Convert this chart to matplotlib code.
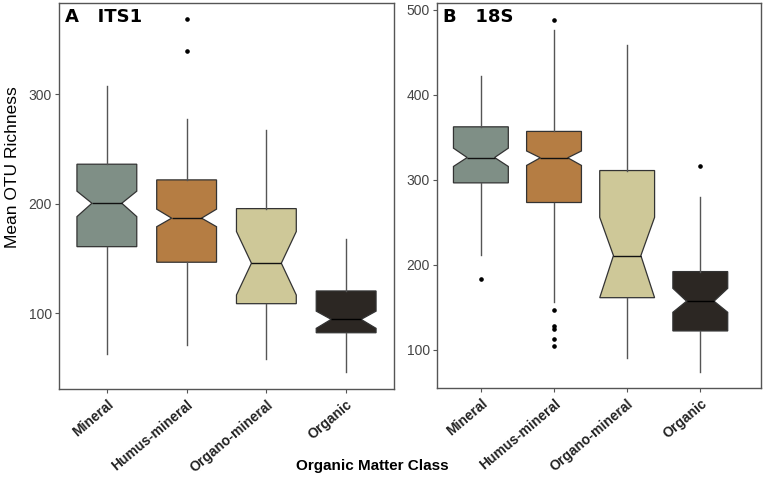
import numpy as np
import matplotlib.pyplot as plt

classes = ["Mineral", "Humus-mineral", "Organo-mineral", "Organic"]
colors = ["#7f8f86", "#b57d43", "#cec898", "#2c2723"]

# ITS1 box statistics
its_whislo = [62.6, 71.0, 58.0, 46.7]
its_q1 = [160.8, 146.6, 108.8, 82.3]
its_cilo = [188.2, 179.0, 116.7, 86.3]
its_med = [200.4, 186.8, 145.7, 94.5]
its_cihi = [211.4, 195.0, 174.6, 102.0]
its_q3 = [236.0, 221.7, 195.5, 120.4]
its_whishi = [307.6, 277.2, 267.4, 167.6]
its_fliers = [[], [339.5, 368.0], [], []]

# 18S box statistics
s18_whislo = [211.4, 157.0, 90.0, 74.5]
s18_q1 = [296.5, 273.4, 161.5, 122.4]
s18_cilo = [315.8, 317.0, 161.5, 144.3]
s18_med = [326.3, 326.0, 211.0, 157.4]
s18_cihi = [337.3, 334.0, 256.0, 172.5]
s18_q3 = [362.4, 357.0, 311.0, 192.2]
s18_whishi = [422.4, 476.0, 458.8, 279.4]
s18_fliers = [[184.0], [105.0, 113.0, 124.5, 128.0, 147.0, 488.0], [], [315.8]]

plt.rcParams["font.family"] = ["Liberation Sans", "DejaVu Sans"]


def make_stats(whislo, q1, cilo, med, cihi, q3, whishi, fliers):
    stats = []
    for i in range(len(med)):
        stats.append({
            "whislo": whislo[i], "q1": q1[i], "cilo": cilo[i], "med": med[i],
            "cihi": cihi[i], "q3": q3[i], "whishi": whishi[i],
            "fliers": fliers[i],
        })
    return stats


def draw_panel(ax, stats, title, ylim, yticks, xlim):
    bp = ax.bxp(stats, positions=range(1, 5), widths=0.75, shownotches=True,
                patch_artist=True, showcaps=False,
                boxprops=dict(edgecolor="#333333", linewidth=0.9),
                medianprops=dict(color="#111111", linewidth=1.0),
                whiskerprops=dict(color="#555555", linewidth=1.0),
                flierprops=dict(marker="o", markersize=2.3, markerfacecolor="black",
                                markeredgecolor="black"))
    for patch, c in zip(bp["boxes"], colors):
        patch.set_facecolor(c)
    for line in bp["medians"][3:]:
        line.set_color("black")
    ax.set_xlim(*xlim)
    ax.set_ylim(*ylim)
    ax.set_yticks(yticks)
    ax.set_xticks(range(1, 5))
    ax.set_xticklabels(classes, rotation=40, ha="right", rotation_mode="anchor",
                       fontsize=10, fontweight="bold", color="#222222")
    ax.tick_params(axis="y", labelsize=10, labelcolor="#444444", length=3,
                   color="#555555", pad=2)
    ax.tick_params(axis="x", length=3, color="#555555", pad=3)
    for s in ax.spines.values():
        s.set_color("#555555")
        s.set_linewidth(1.0)
    ax.text(0.018, 0.988, title, transform=ax.transAxes, ha="left", va="top",
            fontsize=13, fontweight="bold", family="DejaVu Sans")


fig = plt.figure(figsize=(7.65, 4.78), dpi=100)
ax1 = fig.add_axes([59 / 765, 1 - 389 / 478, 335 / 765, 386 / 478])
ax2 = fig.add_axes([437 / 765, 1 - 388 / 478, 324 / 765, 385 / 478])

draw_panel(ax1, make_stats(its_whislo, its_q1, its_cilo, its_med, its_cihi,
                           its_q3, its_whishi, its_fliers),
           "A   ITS1", (31, 383), [100, 200, 300], (0.4, 4.6))
draw_panel(ax2, make_stats(s18_whislo, s18_q1, s18_cilo, s18_med, s18_cihi,
                           s18_q3, s18_whishi, s18_fliers),
           "B   18S", (55.3, 508), [100, 200, 300, 400, 500], (0.4, 4.83))

fig.text(0.016, 1 - 167 / 478, "Mean OTU Richness", rotation=90, ha="center",
         va="center", fontsize=12.5)
fig.text(372 / 765, 1 - 466 / 478, "Organic Matter Class", ha="center",
         va="center", fontsize=11, fontweight="bold")

fig.savefig("out.png", dpi=100)
